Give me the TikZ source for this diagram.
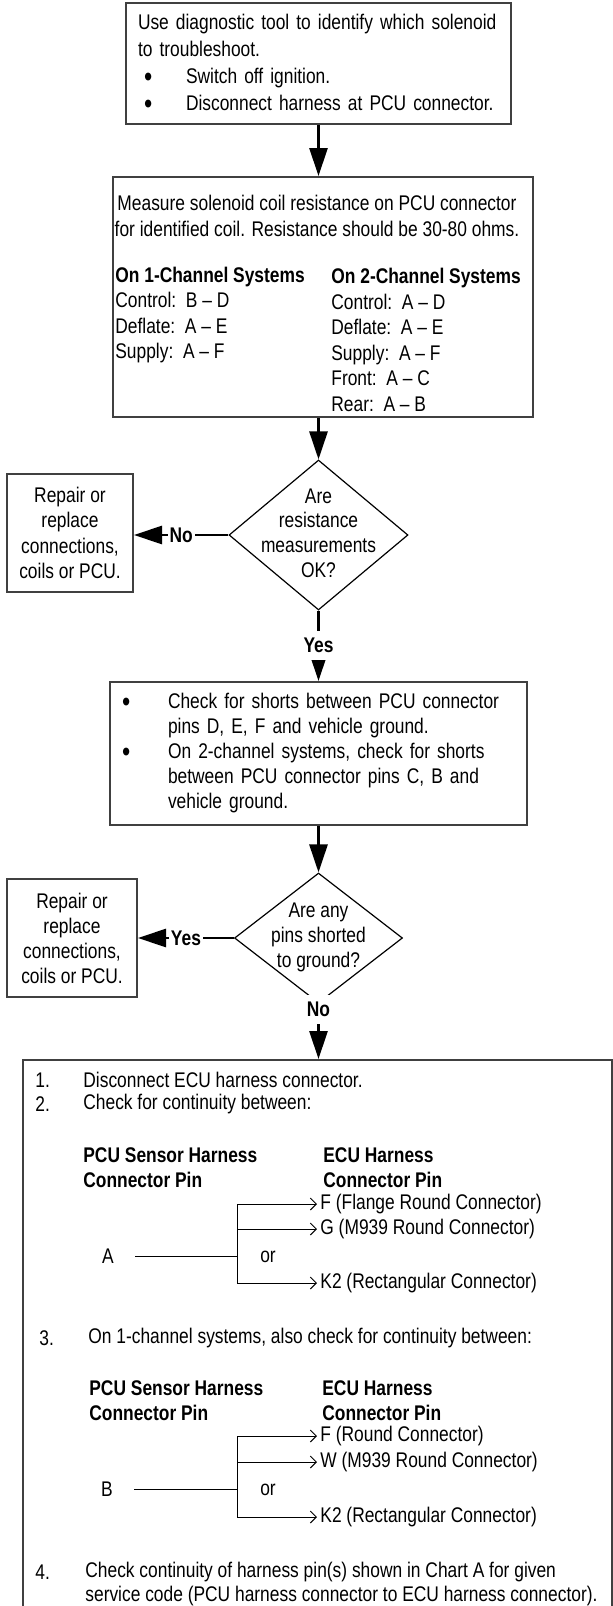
\documentclass[tikz,border=0pt]{standalone}
\usepackage{fontspec}
\usepackage{graphicx}
\setmainfont{Liberation Sans}[FakeStretch=0.82]
\usetikzlibrary{arrows.meta,shapes.geometric}
\newcommand{\flowbullet}[2]{\hspace*{#1}\makebox[#2][l]{\raisebox{-0.25ex}{\scalebox{1.35}{\textbullet}}}}

\begin{document}
\begin{tikzpicture}[x=0.5pt,y=-0.5pt,
  every node/.style={font=\fontsize{10.6}{12.8}\selectfont,inner sep=0pt},
  box/.style={draw=black!75,line width=1pt},
  decision/.style={diamond,draw,line width=0.6pt,inner sep=0pt},
  answer/.style={fill=white,font=\fontsize{10.6}{12.8}\selectfont\bfseries,inner xsep=1pt,inner ysep=3.5pt},
  flow/.style={-{Triangle[length=14pt,width=9pt]},line width=1.4pt},
  wire/.style={line width=0.5pt},
  branch/.style={wire,-{Straight Barb[length=3pt,width=6pt]}},
  pin/.style={anchor=west,inner xsep=1.5pt}]
\useasboundingbox (0,0) rectangle (613,1606);

% Step 1: pick the solenoid
\node[box,text width=180.5pt,inner xsep=6pt,minimum height=60.5pt,align=left,
  font=\fontsize{10.6}{13.5}\selectfont] (ident) at (318.5,63.5)
  {Use diagnostic tool to identify which solenoid\\to troubleshoot.\\
   \flowbullet{3pt}{21pt}Switch off ignition.\\
   \flowbullet{3pt}{21pt}Disconnect harness at PCU connector.};

% Step 2: coil resistance
\node[box,minimum width=210pt,minimum height=120pt] (meas) at (323,297) {};
\node[align=center,font=\fontsize{10.6}{13}\selectfont] (meastxt) at (317,216)
  {Measure solenoid coil resistance on PCU connector\\for identified coil. Resistance should be 30-80 ohms.};
\node[anchor=west,align=left] (onech) at (115,315)
  {\textbf{On 1-Channel Systems}\\Control:~~B – D\\Deflate:~~A – E\\Supply:~~A – F};
\node[anchor=west,align=left] (twoch) at (331,340)
  {\textbf{On 2-Channel Systems}\\Control:~~A – D\\Deflate:~~A – E\\Supply:~~A – F\\Front:~~A – C\\Rear:~~A – B};

% Decision 1
\node[decision,minimum width=89.5pt,minimum height=75pt] (resok) at (318.5,535) {};
\node[align=center,font=\fontsize{10.6}{12.3}\selectfont] (resoktxt) at (318.5,533)
  {Are\\resistance\\measurements\\OK?};
\node[box,minimum width=63pt,minimum height=59pt,align=center,
  font=\fontsize{10.6}{12.7}\selectfont] (fixA) at (70,533)
  {Repair or\\replace\\connections,\\coils or PCU.};

% Step 3: shorts to ground
\node[box,text width=196.5pt,inner xsep=6pt,minimum height=71.5pt,align=left,
  font=\fontsize{10.6}{12.5}\selectfont] (check) at (318.5,753.5)
  {\flowbullet{0pt}{23pt}Check for shorts between PCU connector\\
   \hspace*{23pt}pins D, E, F and vehicle ground.\\
   \flowbullet{0pt}{23pt}On 2-channel systems, check for shorts\\
   \hspace*{23pt}between PCU connector pins C, B and\\
   \hspace*{23pt}vehicle ground.};

% Decision 2
\node[decision,minimum width=84pt,minimum height=65pt] (shorted) at (318.5,938) {};
\node[align=center,font=\fontsize{10.6}{12.5}\selectfont] (shortedtxt) at (318.5,937)
  {Are any\\pins shorted\\to ground?};
\node[box,minimum width=65pt,minimum height=59pt,align=center,
  font=\fontsize{10.6}{12.5}\selectfont] (fixB) at (72,938)
  {Repair or\\replace\\connections,\\coils or PCU.};

% Step 4: continuity (box runs off the page)
\node[box,anchor=north,minimum width=294.5pt,minimum height=290pt] (cont) at (317.5,1059) {};

% Flow arrows
\draw[flow] (ident.south) -- (ident.south |- meas.north);
\draw[flow] (resok.north |- meas.south) -- (resok.north);
\draw[flow] (resok.west) -- node[answer] {No} (fixA.east |- resok.west);
\draw[flow] (resok.south) -- node[answer] {Yes} (check.north);
\draw[flow] (check.south) -- (shorted.north);
\draw[flow] (shorted.west) -- node[answer] {Yes} (fixB.east |- shorted.west);
\draw[flow] (shorted.south) -- node[answer,pos=0.1] {No} (shorted.south |- cont.north);

% Step 4 text
\node[anchor=west] (numA) at (35,1080) {1.};
\node[anchor=west] (itemA) at (83,1080) {Disconnect ECU harness connector.};
\node[anchor=west] (numB) at (35,1104) {2.};
\node[anchor=west] (itemB) at (83,1104) {Check for continuity between:};
\node[anchor=west,align=left,font=\fontsize{10.6}{12.5}\selectfont\bfseries] (pcuheadA) at (83,1167.5)
  {PCU Sensor Harness\\Connector Pin};
\node[anchor=west,align=left,font=\fontsize{10.6}{12.5}\selectfont\bfseries] (ecuheadA) at (323,1167.5)
  {ECU Harness\\Connector Pin};

% pin A branches
\node (pinA) at (108,1256.5) {A};
\node (orA) at (268,1256.5) {or};
\node[pin] (tgtAf) at (317,1204) {F (Flange Round Connector)};
\node[pin] (tgtAg) at (317,1229) {G (M939 Round Connector)};
\node[pin] (tgtAk) at (317,1283) {K2 (Rectangular Connector)};
\coordinate (forkA) at (237,1256.5);
\draw[wire] ([xshift=10.5pt]pinA.east) -- (forkA);
\draw[wire] (forkA |- tgtAf.west) -- (forkA |- tgtAk.west);
\foreach \t in {tgtAf,tgtAg,tgtAk}
  \draw[branch] (forkA |- \t.west) -- (\t.west);

\node[anchor=west] (numC) at (39,1338) {3.};
\node[anchor=west] (itemC) at (88,1338) {On 1-channel systems, also check for continuity between:};
\node[anchor=west,align=left,font=\fontsize{10.6}{12.5}\selectfont\bfseries] (pcuheadB) at (89,1401)
  {PCU Sensor Harness\\Connector Pin};
\node[anchor=west,align=left,font=\fontsize{10.6}{12.5}\selectfont\bfseries] (ecuheadB) at (322,1401)
  {ECU Harness\\Connector Pin};

% pin B branches
\node (pinB) at (107,1489.5) {B};
\node (orB) at (268,1489.5) {or};
\node[pin] (tgtBf) at (317,1436) {F (Round Connector)};
\node[pin] (tgtBw) at (317,1462) {W (M939 Round Connector)};
\node[pin] (tgtBk) at (317,1517) {K2 (Rectangular Connector)};
\coordinate (forkB) at (237,1489.5);
\draw[wire] ([xshift=10.5pt]pinB.east) -- (forkB);
\draw[wire] (forkB |- tgtBf.west) -- (forkB |- tgtBk.west);
\foreach \t in {tgtBf,tgtBw,tgtBk}
  \draw[branch] (forkB |- \t.west) -- (\t.west);

\node[anchor=west] (numD) at (35,1572) {4.};
\node[anchor=west,align=left,font=\fontsize{10.6}{12}\selectfont] (itemD) at (85,1584)
  {Check continuity of harness pin(s) shown in Chart A for given\\service code (PCU harness connector to ECU harness connector).};
\end{tikzpicture}
\end{document}
